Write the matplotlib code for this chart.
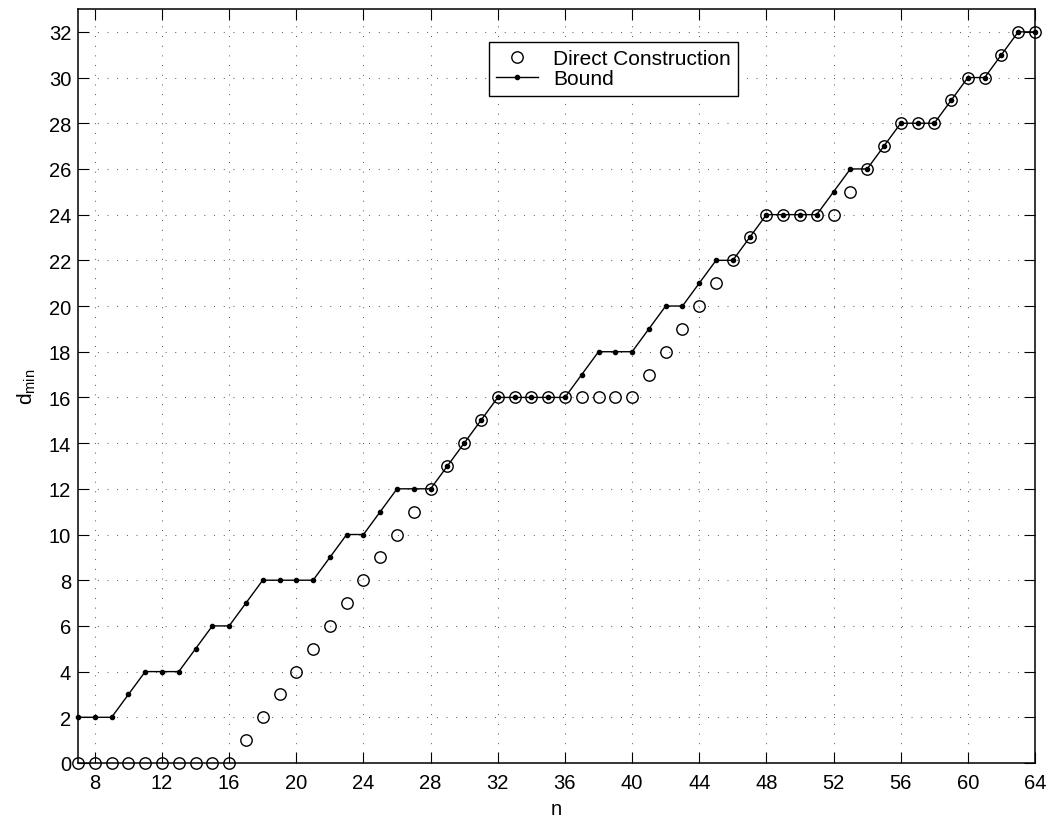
import matplotlib
matplotlib.use('Agg')
import matplotlib.pyplot as plt

# ------------------------------------------
# DATA
# ------------------------------------------
n = list(range(7, 65))

bound = [2, 2, 2, 3, 4, 4, 4, 5, 6, 6,
         7, 8, 8, 8, 8, 9, 10, 10, 11, 12,
         12, 12, 13, 14, 15, 16, 16, 16, 16, 16,
         17, 18, 18, 18, 19, 20, 20, 21, 22, 22,
         23, 24, 24, 24, 24, 25, 26, 26, 27, 28,
         28, 28, 29, 30, 30, 31, 32, 32]

direct = [0, 0, 0, 0, 0, 0, 0, 0, 0, 0,
          1, 2, 3, 4, 5, 6, 7, 8, 9, 10,
          11, 12, 13, 14, 15, 16, 16, 16, 16, 16,
          16, 16, 16, 16, 17, 18, 19, 20, 21, 22,
          23, 24, 24, 24, 24, 24, 25, 26, 27, 28,
          28, 28, 29, 30, 30, 31, 32, 32]

x_ticks = list(range(8, 65, 4))
y_ticks = list(range(0, 33, 2))

# ------------------------------------------
# PLOT
# ------------------------------------------
plt.rcParams['font.family'] = ['Liberation Sans', 'DejaVu Sans']

fig = plt.figure(figsize=(10.49, 8.2), dpi=100)
ax = fig.add_axes([0.0744, 0.0683, 0.9123, 0.9195])

ax.plot(n, direct, 'o', markersize=8.2, markerfacecolor='none',
        markeredgecolor='black', markeredgewidth=1.0,
        label='Direct Construction', clip_on=False, zorder=3)
ax.plot(n, bound, '-', color='black', linewidth=1.0,
        marker='o', markersize=3.0, label='Bound', clip_on=False, zorder=4)

ax.set_xlim(7, 64)
ax.set_ylim(0, 33)
ax.set_xticks(x_ticks)
ax.set_yticks(y_ticks)
ax.tick_params(direction='in', length=8, labelsize=14.5, width=0.8)
ax.tick_params(axis='x', pad=7)
ax.tick_params(axis='y', pad=5)
ax.tick_params(top=True, right=True)

ax.grid(True, color='0.25', linestyle=(0, (0.8, 8.5)), linewidth=0.75)
for s in ax.spines.values():
    s.set_linewidth(1.1)

ax.set_xlabel('n', fontsize=14.5, labelpad=5)
ax.set_ylabel('$\\mathregular{d_{min}}$', fontsize=15, labelpad=8)

leg = ax.legend(loc='upper left', bbox_to_anchor=(0.466, 0.9476),
                bbox_transform=fig.transFigure, fontsize=15,
                fancybox=False, edgecolor='black', framealpha=1,
                borderpad=0.35, labelspacing=0.05, handlelength=2.0,
                handletextpad=0.75, borderaxespad=0)
leg.get_frame().set_linewidth(1.0)

fig.savefig('out.png', dpi=100)
plt.close(fig)
